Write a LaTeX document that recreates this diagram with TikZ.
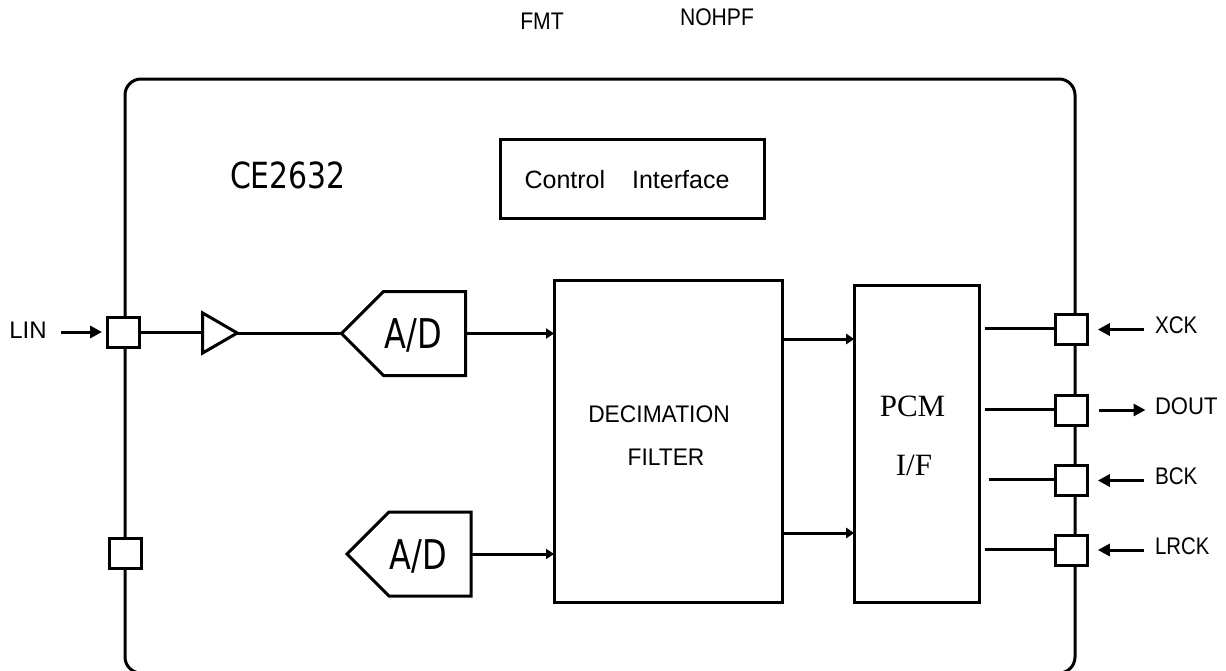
\documentclass[tikz,border=0pt]{standalone}
\usepackage{fontspec}
\setmainfont{Liberation Sans}
\newfontfamily\serifcap{Liberation Serif}
\newfontfamily\dejacap{DejaVu Sans}
\usetikzlibrary{arrows.meta,shapes.geometric,shapes.symbols}
\tikzset{
  every node/.append style={outer sep=0pt},
  pad/.style={draw,line width=3pt,fill=white,inner sep=0pt,minimum width=32pt,minimum height=30pt},
  blockbox/.style={draw,line width=3pt,inner sep=0pt},
  adc/.style={draw,line width=3pt,fill=white,shape=signal,signal to=west,signal pointer angle=90,
    inner sep=0pt,minimum width=124pt,minimum height=84pt},
  adclabel/.style={font=\dejacap\fontsize{41}{41}\selectfont,xscale=0.78,inner sep=0pt},
  pcmlabel/.style={font=\serifcap\fontsize{31}{31}\selectfont,inner sep=0pt},
  pinlabel/.style={font=\fontsize{24}{24}\selectfont,inner sep=0pt},
  sigwire/.style={line width=3pt},
  sigarrow/.style={line width=3pt,-{Triangle[length=12pt,width=12pt]}},
  busarrow/.style={line width=3pt,-{Triangle[length=8pt,width=10pt]}}
}
\begin{document}
\begin{tikzpicture}[x=1pt,y=-1pt]
  \useasboundingbox (0,0) rectangle (1226,670);
  % package outline
  \draw[line width=3pt,rounded corners=16pt] (125,673) rectangle (1075,79);
  % top labels
  \node[pinlabel,xscale=.88] (fmt) at (542,21) {FMT};
  \node[pinlabel,xscale=.88] (nohpf) at (717,17) {NOHPF};
  \node[font=\dejacap\fontsize{36}{36}\selectfont,xscale=.83,inner sep=0pt] (chip) at (288,175) {CE2632};
  \node[blockbox,minimum width=264pt,minimum height=78.7pt] (ctrl) at (632.5,179) {};
  \node[font=\fontsize{25}{25}\selectfont,inner sep=0pt] (ctrllab) at (627,180) {Control\hspace{27pt}Interface};
  % pads
  \node[pad] (lin) at (123,332) {};
  \node[pad] (ain) at (125.5,553) {};
  \node[pad] (xck) at (1071.8,329.5) {};
  \node[pad] (dout) at (1071.8,410) {};
  \node[pad] (bck) at (1071.8,480.5) {};
  \node[pad] (lrck) at (1071.8,550) {};
  % signal path
  \node[draw,line width=3pt,isosceles triangle,isosceles triangle stretches,inner sep=0pt,
    minimum width=40pt,minimum height=34.5pt] (amp) at (214.25,333) {};
  \node[adc] (adone) at (424.5,333.5) {};
  \node[adc] (adtwo) at (430,554) {};
  \node[adclabel] (adonelab) at (413.5,335) {A/D};
  \node[adclabel] (adtwolab) at (418.5,556) {A/D};
  \node[blockbox,minimum width=228.5pt,minimum height=322pt] (dec) at (668.25,441.5) {};
  \node[pinlabel,xscale=.95] (dectop) at (659,414) {DECIMATION};
  \node[pinlabel,xscale=.95] (decbot) at (666,457) {FILTER};
  \node[blockbox,minimum width=125.6pt,minimum height=317pt] (pcm) at (917,444) {};
  \node[pcmlabel] (pcmtop) at (912.5,406.5) {PCM};
  \node[pcmlabel] (pcmbot) at (914,465) {I/F};
  \draw[sigwire] (lin.east) -- (lin.east -| amp.lower side);
  \draw[sigwire] (amp.apex) -- (amp.apex -| adone.west);
  \draw[busarrow] (adone.east) -- (adone.east -| dec.west);
  \draw[busarrow] (adtwo.east) -- (adtwo.east -| dec.west);
  \coordinate (decup) at (dec.east |- 0,339);
  \coordinate (declow) at (dec.east |- 0,533);
  \draw[busarrow] (decup) -- (decup -| pcm.west);
  \draw[busarrow] (declow) -- (declow -| pcm.west);
  % pcm stubs
  \coordinate (xckend) at (984.5,328.3);
  \coordinate (doutend) at (984.5,409);
  \coordinate (bckend) at (988.7,479);
  \coordinate (lrckend) at (984.5,549);
  \draw[sigwire] (xckend) -- (xckend -| xck.west);
  \draw[sigwire] (doutend) -- (doutend -| dout.west);
  \draw[sigwire] (bckend) -- (bckend -| bck.west);
  \draw[sigwire] (lrckend) -- (lrckend -| lrck.west);
  % pin labels
  \node[pinlabel] (linlab) at (28,330) {LIN};
  \node[pinlabel,anchor=west,xscale=.86] (xcklab) at (1155,325) {XCK};
  \node[pinlabel,anchor=west,xscale=.92] (doutlab) at (1155,406) {DOUT};
  \node[pinlabel,anchor=west,xscale=.86] (bcklab) at (1155,476) {BCK};
  \node[pinlabel,anchor=west,xscale=.85] (lrcklab) at (1155,546) {LRCK};
  \draw[sigarrow,shorten <=14pt,shorten >=5pt] (linlab.east |- lin.west) -- (lin.west);
  \draw[sigarrow,shorten <=11pt,shorten >=10pt] (xcklab.west |- xck.east) -- (xck.east);
  \draw[sigarrow,shorten <=11.5pt,shorten >=9.5pt] (dout.east) -- (doutlab.west |- dout.east);
  \draw[sigarrow,shorten <=11pt,shorten >=10pt] (bcklab.west |- bck.east) -- (bck.east);
  \draw[sigarrow,shorten <=11pt,shorten >=10pt] (lrcklab.west |- lrck.east) -- (lrck.east);
\end{tikzpicture}
\end{document}
